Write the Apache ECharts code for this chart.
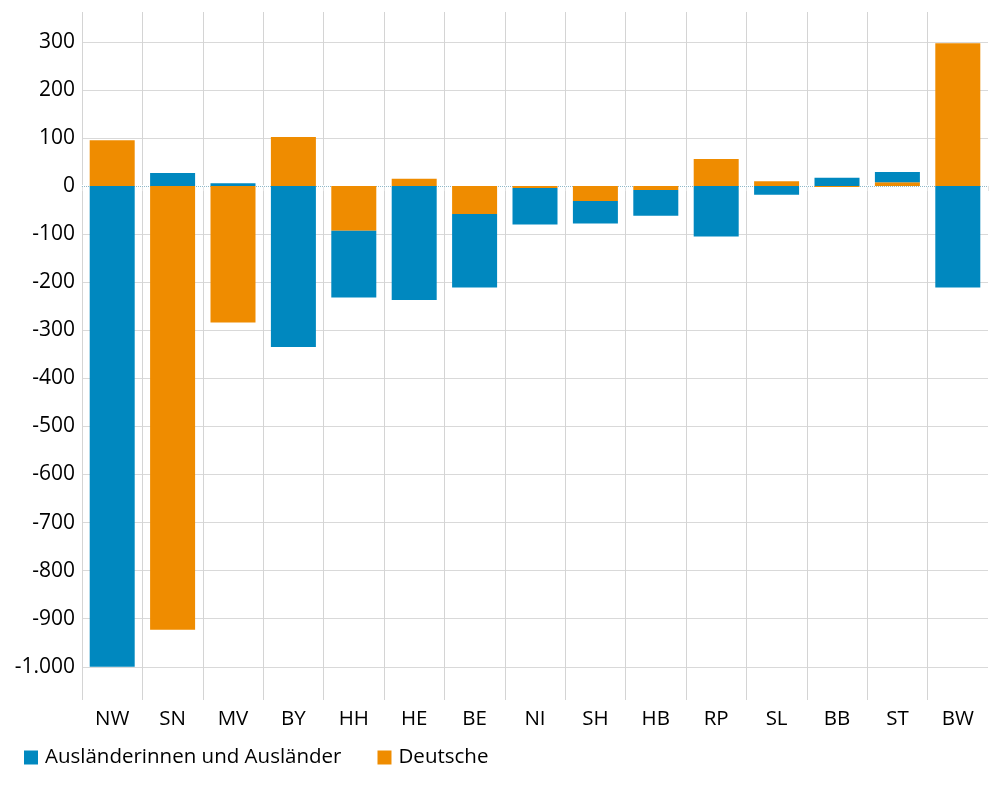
<!DOCTYPE html>
<html><head><meta charset="utf-8">
<script src="https://cdn.jsdelivr.net/npm/echarts@6/dist/echarts.min.js"></script>
<style>html,body{margin:0;padding:0;background:#fff}#c{width:1000px;height:800px}</style>
</head><body><div id="c"></div>
<script>
const categories = ['NW','SN','MV','BY','HH','HE','BE','NI','SH','HB','RP','SL','BB','ST','BW'];
const auslaender = [-1000, 27, 6, -335, -139, -237, -153, -76, -47, -54, -105, -18, 17, 21, -211];
const deutsche   = [95, -923, -284, 102, -93, 15, -58, -4, -31, -8, 56, 10, -2, 8, 297];
const seriesNames = ['Ausländerinnen und Ausländer', 'Deutsche'];

function fmt(v) {
  const s = String(Math.abs(v));
  const t = s.replace(/\B(?=(\d{3})+(?!\d))/g, '.');
  return (v < 0 ? '-' : '') + t;
}

const chart = echarts.init(document.getElementById('c'));
const font = 'Open Sans';
chart.setOption({
  animation: false,
  backgroundColor: '#fff',
  grid: { left: 82, right: 12, top: 12, bottom: 100, containLabel: false },
  legend: {
    data: seriesNames,
    left: 19, top: 742,
    icon: 'rect', itemWidth: 14, itemHeight: 14, itemGap: 36,
    textStyle: { fontFamily: font, fontSize: 20.5, color: '#000', padding: [0, 0, 0, 2] }
  },
  xAxis: {
    type: 'category',
    data: categories,
    axisLine: { show: true, lineStyle: { color: '#e3e3e3' } },
    axisTick: { show: true, length: 5, lineStyle: { color: '#e3e3e3' } },
    splitLine: { show: true, interval: 0, showMaxLine: false, lineStyle: { color: '#d4d4d4' } },
    axisLabel: { fontFamily: font, fontSize: 20.5, color: '#000', margin: 9, interval: 0 }
  },
  yAxis: {
    type: 'value',
    min: -1069, max: 362,
    minInterval: 100, maxInterval: 100,
    axisLine: { show: false },
    axisTick: { show: false },
    splitLine: { show: true, showMinLine: false, showMaxLine: false, lineStyle: { color: '#d9d9d9' } },
    axisLabel: {
      fontFamily: font, fontSize: 21, color: '#000', margin: 7,
      showMinLabel: false, showMaxLabel: false,
      formatter: v => (v % 100 === 0 ? fmt(v) : '')
    }
  },
  series: [
    {
      name: 'Deutsche', type: 'bar', stack: 'a', data: deutsche,
      barWidth: 45, itemStyle: { color: '#ef8c00' },
      markLine: {
        silent: true, symbol: 'none', z: 1, label: { show: false },
        data: [
          { yAxis: 0, lineStyle: { color: '#ffffff', type: 'solid', width: 2 } },
          { yAxis: 0, lineStyle: { color: '#8fb8c8', type: 'dotted', width: 1 } }
        ]
      }
    },
    {
      name: 'Ausländerinnen und Ausländer', type: 'bar', stack: 'a', data: auslaender,
      barWidth: 45, itemStyle: { color: '#0088bf' }
    }
  ]
});
</script></body></html>
